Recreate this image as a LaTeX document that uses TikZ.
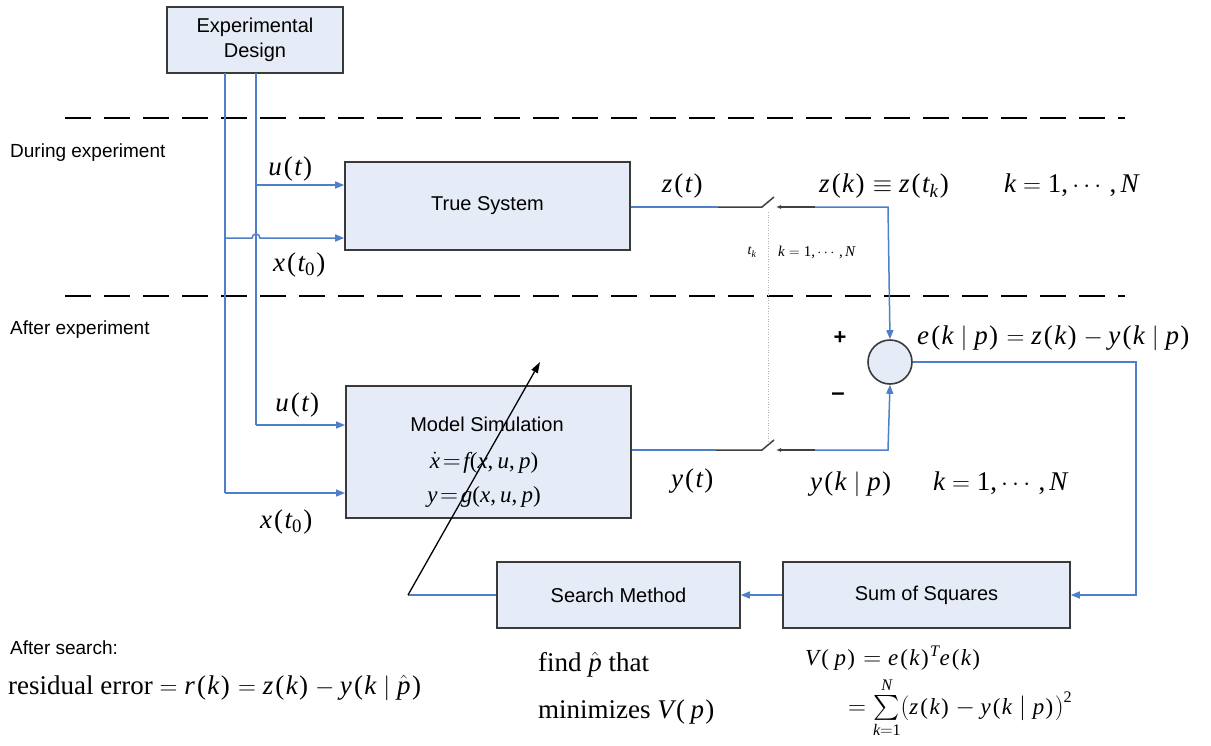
\documentclass[tikz,border=0pt]{standalone}
\usepackage{amsmath}
\usepackage[no-math]{fontspec}
\setmainfont{Liberation Serif}
\setsansfont{Liberation Sans}
\newfontfamily\tmsfamily{Liberation Serif}[NFSSFamily=tms]
% Times-style letters, digits and parentheses in formulas
\DeclareSymbolFont{tmsltrs}{TU}{tms}{m}{it}
\DeclareSymbolFont{tmsnums}{TU}{tms}{m}{n}
\makeatletter
\@for\ch:=a,b,c,d,e,f,g,h,i,j,k,l,m,n,o,p,q,r,s,t,u,v,w,x,y,z,N,T,V\do{%
  \expandafter\DeclareMathSymbol\expandafter{\ch}{\mathalpha}{tmsltrs}{\expandafter`\ch}}
\makeatother
\DeclareMathSymbol{0}{\mathalpha}{tmsnums}{`0}
\DeclareMathSymbol{1}{\mathalpha}{tmsnums}{`1}
\DeclareMathSymbol{2}{\mathalpha}{tmsnums}{`2}
\DeclareMathSymbol{(}{\mathopen}{tmsnums}{`(}
\DeclareMathSymbol{)}{\mathclose}{tmsnums}{`)}
\DeclareMathSymbol{,}{\mathpunct}{tmsnums}{`,}
% parentheses set a little apart, as an equation editor does
\newcommand{\lp}{\mkern1.5mu(\mkern1mu}
\newcommand{\rp}{\mkern1mu)\mkern1mu}
\newcommand{\given}{\mkern5mu|\mkern5mu}
\usetikzlibrary{arrows.meta}
\definecolor{flowblue}{HTML}{4F7FC8}
\definecolor{boxfill}{HTML}{E6ECF7}
\definecolor{boxline}{HTML}{3A3A3A}
\tikzset{
  block/.style={draw=boxline, line width=1.6pt, fill=boxfill, font=\sffamily\fontsize{20}{24}\selectfont, align=center, inner sep=0pt},
  flow/.style={draw=flowblue, line width=1.5pt},
  flowarrow/.style={flow, -{Triangle[length=9pt,width=7pt]}},
  swline/.style={draw=black!75, line width=1.5pt},
  phase/.style={draw=black, line width=2.2pt, dash pattern=on 26pt off 13pt},
  biglabel/.style={font=\fontsize{27}{30}\selectfont, inner sep=0pt},
  midlabel/.style={font=\fontsize{27}{30}\selectfont, inner sep=0pt},
  sidetext/.style={font=\sffamily\fontsize{19}{23}\selectfont, inner sep=0pt, anchor=west},
}
\begin{document}
\begin{tikzpicture}[x=1pt, y=-1pt]
\useasboundingbox (0,0) rectangle (1211,745);

% phase separators
\draw[phase] (65,118) -- (1125,118);
\draw[phase] (65,296) -- (1125,296);
\node[sidetext] (during) at (10,153) {During experiment};
\node[sidetext] (after) at (10,330) {After experiment};

% blocks
\node[block, minimum width=176pt, minimum height=66pt] (design) at (255,40) {Experimental\\[1pt]Design};
\node[block, minimum width=285pt, minimum height=88pt] (truesys) at (487.5,206) {True System};
\node[block, minimum width=285pt, minimum height=132pt, anchor=north west] (model) at (345,385) {};
\node[font=\sffamily\fontsize{20}{24}\selectfont, inner sep=0pt] (modeltitle) at (487,424) {Model Simulation};
\node[font=\fontsize{23}{26}\selectfont, inner sep=0pt] (modeleq1) at (484,463) {$\dot{x}\!=\!f(x,u,p)$};
\node[font=\fontsize{23}{26}\selectfont, inner sep=0pt] (modeleq2) at (484,497) {$y\!=\!g(x,u,p)$};
\node[block, minimum width=243pt, minimum height=66pt] (search) at (618.5,595) {Search Method};
\node[block, minimum width=287pt, minimum height=66pt] (sumsq) at (926.5,595) {Sum of Squares};
\node[circle, draw=boxline, line width=1.6pt, fill=boxfill, minimum size=44pt, inner sep=0pt] (sum) at (890,362) {};

% taps from the design block
\coordinate (tapA) at (225,73);
\coordinate (tapB) at (256,73);
\draw[flow] (tapA) -- (225,493);
\draw[flow] (tapB) -- (256,425);
\draw[flowarrow] (256,185) -- (truesys.west |- 0,185);
\draw[flowarrow] (225,238) -- (252,238) arc[start angle=180, end angle=0, radius=4pt] -- (truesys.west |- 0,238);
\draw[flowarrow] (256,425) -- (model.west |- 0,425);
\draw[flowarrow] (225,493) -- (model.west |- 0,493);

\node[biglabel] (ut1) at (291,169) {$u\lp t\rp$};
\node[biglabel] (xt1) at (300,265) {$x\lp t_0\rp$};
\node[biglabel] (ut2) at (298,405) {$u\lp t\rp$};
\node[biglabel] (xt2) at (287,522) {$x\lp t_0\rp$};

% sampling switches
\coordinate (zsw1) at (718,207);
\coordinate (zsw2) at (762,207);
\coordinate (zsw3) at (774,197);
\coordinate (zsw4) at (815,207);
\draw[flow] (truesys.east |- zsw1) -- (zsw1);
\draw[swline] (zsw1) -- (zsw2) -- (zsw3);
\draw[swline, -{Latex[length=5pt,width=4pt]}] (zsw4) -- (776,207);
\draw[flowarrow] (zsw4) -- (888,207) -- (sum.north);

\coordinate (ysw1) at (716,450);
\coordinate (ysw2) at (762,450);
\coordinate (ysw3) at (774,440);
\coordinate (ysw4) at (815,450);
\draw[flow] (model.east |- ysw1) -- (ysw1);
\draw[swline] (ysw1) -- (ysw2) -- (ysw3);
\draw[swline, -{Latex[length=5pt,width=4pt]}] (ysw4) -- (776,450);
\draw[flowarrow] (ysw4) -- (888,450) -- (sum.south);

\draw[black!30, line width=0.6pt, dotted] (768,212) -- (768,445);
\node[font=\fontsize{14}{16}\selectfont, inner sep=0pt] (tk) at (752,252) {$t_k$};
\node[font=\fontsize{15}{17}\selectfont, inner sep=0pt, anchor=west] (tkrange) at (778,252) {$k=1,\cdots,N$};

\node[biglabel] (zt) at (683,186) {$z\lp t\rp$};
\node[biglabel, anchor=west] (zk) at (819,186) {$z\lp k\rp\equiv z\lp t_k\rp\qquad k=1,\cdots,N$};
\node[biglabel] (yt) at (693,481) {$y\lp t\rp$};
\node[biglabel, anchor=west] (yk) at (810,484) {$y\lp k\given p\rp\quad\ \ k=1,\cdots,N$};

\node[font=\sffamily\bfseries\fontsize{22}{26}\selectfont, inner sep=0pt] (plus) at (840,338) {+};
\node[font=\sffamily\bfseries\fontsize{24}{26}\selectfont, inner sep=0pt] (minus) at (838,397) {\textendash};
\node[biglabel, anchor=west] (err) at (917,338) {$e\lp k\given p\rp=z\lp k\rp-y\lp k\given p\rp$};

% error to cost, cost to search, search to parameters
\draw[flowarrow] (sum.east) -- (1136,362) -- (1136,595) -- (sumsq.east);
\draw[flowarrow] (sumsq.west) -- (search.east);
\coordinate (tune) at (408,595);
\coordinate (tunetip) at (540,362);
\draw[flow] (search.west) -- (tune);
\draw[black, line width=1.3pt, -{Triangle[length=11pt,width=7pt]}] (tune) -- (tunetip);

% bottom annotations
\node[sidetext] (aftersearch) at (10,648) {After search:};
\node[midlabel, anchor=west] (resid) at (8,688) {residual error $=r\lp k\rp=z\lp k\rp-y\lp k\given\hat{p}\rp$};
\node[midlabel, anchor=west] (find) at (538,665) {find $\hat{p}$ that};
\node[midlabel, anchor=west] (minim) at (538,712) {minimizes $V\lp\,p\rp$};
\node[font=\fontsize{23}{25}\selectfont, inner sep=0pt, anchor=west] (vp) at (805,658) {$V\lp\,p\rp=e\lp k\rp^T e\lp k\rp$};
\node[font=\fontsize{23}{25}\selectfont, inner sep=0pt, anchor=west] (vsum) at (848,708) {$=\sum\limits_{k=1}^{N}\bigl(z\lp k\rp-y\lp k\given p\rp\bigr)^2$};
\end{tikzpicture}
\end{document}
